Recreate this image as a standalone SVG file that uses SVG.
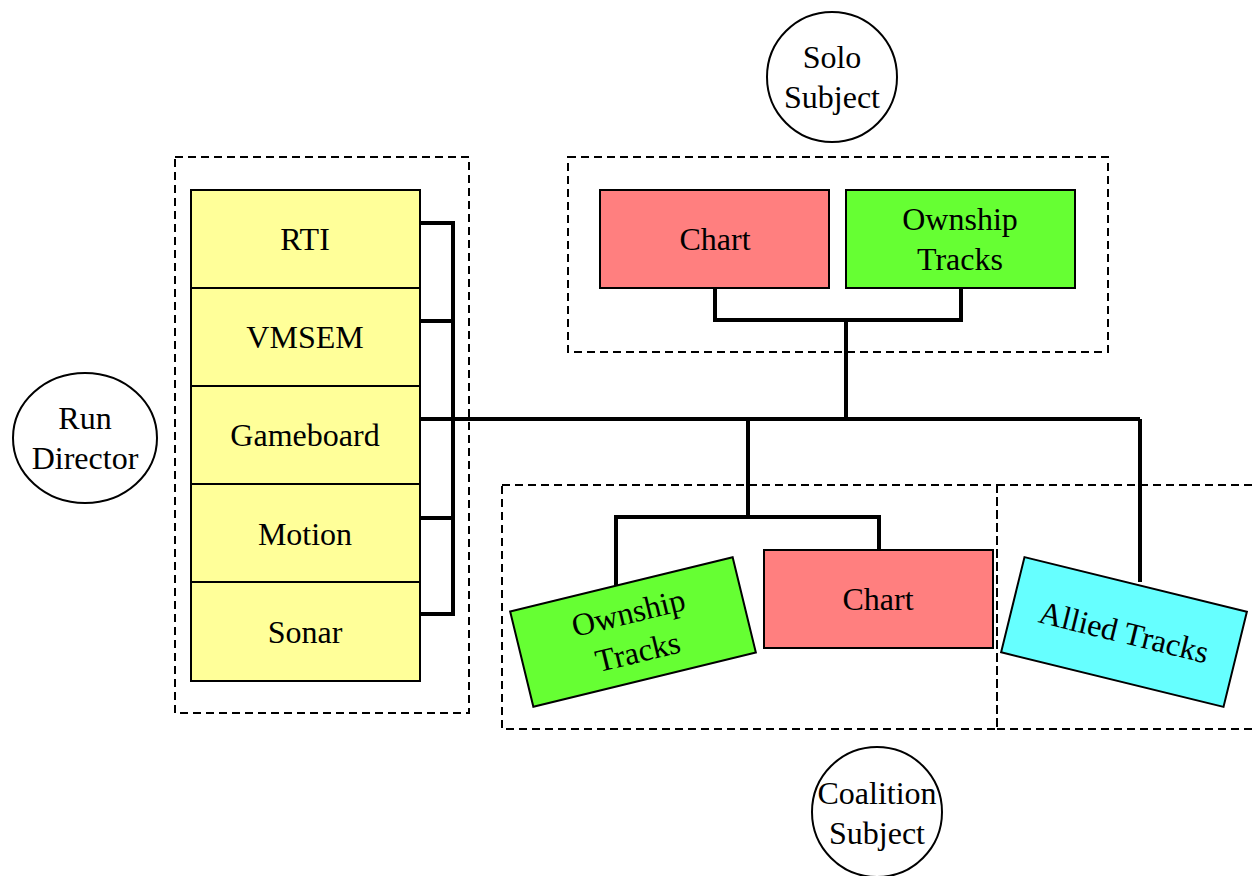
<svg xmlns="http://www.w3.org/2000/svg" width="1254" height="876" viewBox="0 0 1254 876">
<style>
text{font-family:"Liberation Serif","Times New Roman",serif;font-size:32px;fill:#000;text-anchor:middle}
.box{stroke:#000;stroke-width:2}
.dash{fill:none;stroke:#000;stroke-width:2;stroke-dasharray:8,5}
.conn{fill:none;stroke:#000;stroke-width:4}
.circ{fill:#fff;stroke:#000;stroke-width:2}
</style>
<rect width="1254" height="876" fill="#fff"/>
<g id="groups">
<rect class="dash" x="175" y="157" width="294" height="556"/>
<rect class="dash" x="568" y="157" width="540" height="195"/>
<rect class="dash" x="502" y="485" width="495" height="244"/>
<path class="dash" d="M997 485 H1256 M997 729 H1256 M997 485 V729"/>
</g>
<g id="connectors">
<path class="conn" d="M420 223 H453 M420 321 H453 M420 518 H453 M420 614 H453 M453 221 V616"/>
<path class="conn" d="M420 419 H1140 M846 320 V419 M715 288 V320 H961 V288"/>
<path class="conn" d="M748 419 V517 M616 585 V517 H879 V550"/>
<path class="conn" d="M1140 419 V582"/>
</g>
<g id="rti"><rect class="box" x="191" y="190" width="229" height="98" fill="#ffff99"/><text x="305" y="250">RTI</text></g>
<g id="vmsem"><rect class="box" x="191" y="288" width="229" height="98" fill="#ffff99"/><text x="305" y="348">VMSEM</text></g>
<g id="gameboard"><rect class="box" x="191" y="386" width="229" height="98" fill="#ffff99"/><text x="305" y="446">Gameboard</text></g>
<g id="motion"><rect class="box" x="191" y="484" width="229" height="98" fill="#ffff99"/><text x="305" y="545">Motion</text></g>
<g id="sonar"><rect class="box" x="191" y="582" width="229" height="99" fill="#ffff99"/><text x="305" y="643">Sonar</text></g>
<g id="run-director"><ellipse class="circ" cx="85" cy="438" rx="72" ry="65"/><text x="85" y="429">Run</text><text x="85" y="469">Director</text></g>
<g id="solo-subject"><ellipse class="circ" cx="832" cy="77" rx="65" ry="65"/><text x="832" y="68">Solo</text><text x="832" y="108">Subject</text></g>
<g id="coalition-subject"><ellipse class="circ" cx="877" cy="812" rx="65" ry="65"/><text x="877" y="804">Coalition</text><text x="877" y="844">Subject</text></g>
<g id="solo-chart"><rect class="box" x="600" y="190" width="229" height="98" fill="#ff7f7f"/><text x="715" y="250">Chart</text></g>
<g id="solo-ownship"><rect class="box" x="846" y="190" width="229" height="98" fill="#66ff33"/><text x="960" y="230">Ownship</text><text x="960" y="270">Tracks</text></g>
<g id="coalition-chart"><rect class="box" x="764" y="550" width="229" height="98" fill="#ff7f7f"/><text x="878" y="610">Chart</text></g>
<g id="coalition-ownship" transform="translate(633 632) rotate(-13.7)"><rect class="box" x="-114.5" y="-49" width="229" height="98" fill="#66ff33"/><text x="0" y="-9">Ownship</text><text x="0" y="31">Tracks</text></g>
<g id="allied-tracks" transform="translate(1124 632) rotate(13.8)"><rect class="box" x="-114.5" y="-49" width="229" height="98" fill="#66ffff"/><text x="0" y="11">Allied Tracks</text></g>
</svg>
